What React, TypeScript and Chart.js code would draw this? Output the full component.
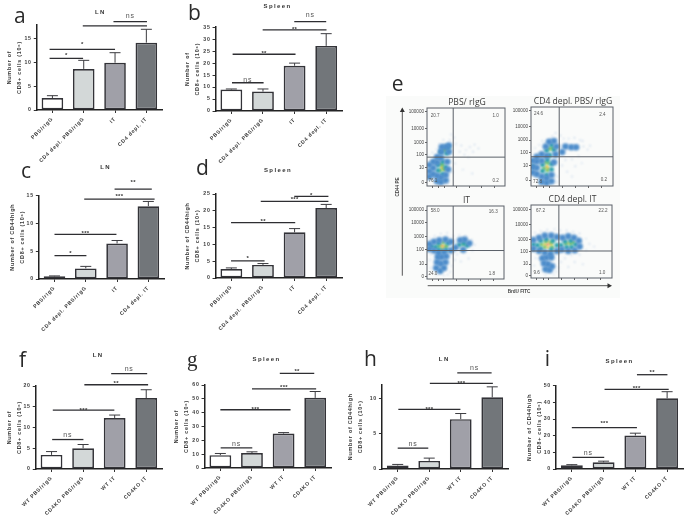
import React, { useEffect, useRef } from "react";
import { Chart, registerables } from "chart.js";
Chart.register(...registerables);

// ---------- data ----------
const catsDepl = ["PBS/rIgG", "CD4 depl. PBS/rIgG", "IT", "CD4 depl. IT"];
const catsKo = ["WT PBS/rIgG", "CD4KO PBS/rIgG", "WT IT", "CD4KO IT"];
const titleCd8 = ["Number of", "CD8+ cells (10⁶)"];
const titleHigh = ["Number of CD44high", "CD8+ cells (10⁶)"];

const aValues = [2.5, 8.6, 9.9, 14.1];
const aErrTops = [3.0, 10.4, 12.0, 16.9];
const aBrackets: [number, number, number, string][] = [[1.95, 3.02, 18.5, "ns"], [0.97, 3.02, 17.6, ""], [-0.09, 2, 12.7, "*"], [-0.09, 0.98, 10.8, "*"]];
const bValues = [8.95, 8.1, 18.9, 27.2];
const bErrTops = [9.2, 9.2, 20.0, 32.3];
const bBrackets: [number, number, number, string][] = [[1.99, 3.0, 37.3, "ns"], [0.99, 3.01, 33.9, "**"], [0.04, 2.03, 23.7, "**"], [0.02, 1.02, 11.8, "ns"]];
const cValues = [0.48, 1.9, 6.37, 13.05];
const cErrTops = [0.55, 2.26, 6.9, 13.9];
const cBrackets: [number, number, number, string][] = [[1.92, 3.11, 16.1, "**"], [0.95, 3.2, 14.3, "***"], [0, 1.98, 8.0, "***"], [0, 1.02, 4.2, "*"]];
const dValues = [2.7, 3.9, 13.6, 20.8];
const dErrTops = [3.0, 4.3, 14.7, 21.9];
const dBrackets: [number, number, number, string][] = [[1.99, 3.07, 24.3, "*"], [0.93, 3.07, 22.8, "***"], [-0.01, 2.02, 16.5, "**"], [-0.01, 1.05, 5.1, "*"]];
const fValues = [3.4, 5.0, 12.3, 17.1];
const fErrTops = [4.2, 5.9, 13.0, 19.1];
const fBrackets: [number, number, number, string][] = [[1.89, 3.03, 23.0, "ns"], [1.04, 3.06, 20.3, "**"], [0.04, 1.99, 14.2, "***"], [0.02, 1.01, 7.1, "ns"]];
const gValues = [9.3, 10.8, 24.9, 50.7];
const gErrTops = [10.5, 11.7, 25.6, 55.3];
const gBrackets: [number, number, number, string][] = [[1.88, 2.97, 68.4, "**"], [1.0, 3.03, 57.2, "***"], [0, 2.22, 42.1, "***"], [0.01, 1.01, 14.6, "ns"]];
const hValues = [0.5, 1.15, 7.1, 10.2];
const hErrTops = [0.65, 1.55, 7.9, 11.7];
const hBrackets: [number, number, number, string][] = [[1.89, 2.98, 13.7, "ns"], [1.02, 3.02, 12.2, "***"], [0.02, 1.99, 8.5, "***"], [0, 0.97, 2.97, "ns"]];
const iValues = [2.2, 4.0, 20.1, 42.4];
const iErrTops = [2.6, 4.7, 21.5, 46.4];
const iBrackets: [number, number, number, string][] = [[2.05, 3.01, 56.6, "**"], [1.03, 3.05, 47.8, "***"], [0, 2.05, 24.8, "***"], [0.02, 1.02, 7.0, "ns"]];

const flowLabels = ["0", "10", "100", "1000", "10000", "100000"];
type P = [number, number];

const s1: P[] = [[5, 4.6], [4.4, 5.2], [5.5, 5], [4.8, 4], [5.9, 4.4], [6.1, 5.3], [4.2, 4.4], [5.3, 3.7], [3.5, 6.2], [3.7, 5.4], [3.1, 6.6], [2.9, 5.9], [6.6, 4.8], [4.6, 2.1], [5.8, 1.6], [0.3, 3.9], [0.7, 4.3], [1.2, 4.7], [1.6, 5.4], [2.1, 5.9], [3.3, 1.8], [3.6, 2.9], [2.6, 0.4]];
const b1: P[] = [[0.3, 1.2], [0.3, 1.9], [0.3, 2.7], [0.8, 1.5], [0.8, 2.3], [0.8, 3.1], [1.3, 0.6], [1.3, 1.3], [1.3, 3], [1.3, 3.7], [1.8, 0.5], [1.8, 1.1], [1.8, 3.6], [1.8, 4.4], [2.4, 0.7], [2.4, 1.4], [2.6, 3.1], [2.4, 5], [2.8, 4.4], [2.8, 5.2], [2.7, 2.1], [1.9, 5]];
const t1: P[] = [[1.4, 2], [1.4, 2.7], [2, 1.5], [2, 3.1], [2.4, 2.4], [1.8, 4.4], [2.5, 4.2], [2.7, 4.9]];
const g1: P[] = [[1.7, 2], [2, 2.7], [2.2, 2.1], [2.2, 4.6], [2.4, 4.8], [1.8, 2.8]];
const y1: P[] = [[1.9, 2.4], [2.1, 2.2], [2.3, 4.65]];
const r1: P[] = [[1.95, 2.3]];

const s2: P[] = [[3.6, 6.4], [4, 6], [4.6, 6], [5.3, 6.1], [6, 5.8], [6.4, 5], [5.8, 3.8], [5, 3.4], [4.2, 3.3], [3.8, 2.6], [5.4, 2.5], [4.4, 1.8], [6.2, 2.9], [3.2, 1.2], [3, 6.7], [2.6, 6.3], [0.5, 4.8], [1, 5.2], [1.4, 5.7], [6.9, 4.6], [7.2, 5.1], [5, 1.2], [3.2, 0.5], [6.3, 5.7]];
const b2: P[] = [[0.2, 1.7], [0.2, 2.4], [0.2, 3.2], [0.7, 1.5], [0.7, 2.3], [0.7, 3.1], [0.7, 3.7], [1.3, 0.5], [1.3, 1.2], [1.3, 3.2], [1.3, 4], [1.9, 0.4], [1.9, 1], [1.9, 3.8], [2.5, 0.6], [2.5, 1.4], [2.8, 3], [3, 4], [3.1, 5], [2.2, 5.6], [2.8, 5.7], [1.8, 5], [4.2, 5], [4.9, 4.9], [5.5, 4.9], [3.8, 4.3]];
const t2: P[] = [[1.4, 1.9], [1.4, 2.7], [1.9, 1.4], [2, 3.3], [2.5, 2.1], [2.5, 2.8], [2.3, 3.9], [1.9, 4.5], [2.8, 4.6], [2.5, 5.2], [0.2, 2.5]];
const g2: P[] = [[1.6, 2.2], [2, 2], [2.1, 2.9], [1.8, 3], [2.2, 4.7], [2.6, 4.8]];
const y2: P[] = [[1.9, 2.5], [2.1, 2.2], [2.4, 4.75]];
const r2: P[] = [[1.95, 2.35]];

const s3: P[] = [[0.3, 5.6], [1, 5.9], [1.8, 6.2], [2.6, 6.3], [3.4, 5.9], [4.2, 6], [5, 5.9], [5.8, 5.4], [6.2, 4.7], [5.9, 3.9], [4.8, 3.6], [3.9, 3.4], [3.6, 2.6], [3.2, 1.8], [3, 1], [2.7, 0.6], [1.2, 0.5], [0.5, 1.5], [0.4, 2.6], [0.5, 3.4], [4.4, 2.4], [5.4, 2.8], [1.4, 0.9], [2.2, 0.5]];
const b3: P[] = [[1.2, 1.5], [1.7, 1.1], [2.2, 1.5], [1.3, 2.3], [1.8, 2.1], [2.4, 2.3], [1.4, 3], [1.9, 3], [2.5, 3.1], [1.5, 3.6], [2.2, 3.7], [0.3, 4.1], [0.3, 4.8], [0.9, 3.9], [0.9, 5.1], [1.6, 5.3], [2.4, 5.4], [3.1, 5.1], [3.1, 3.9], [3.7, 4.3], [4.3, 5.3], [4.9, 5.4], [5.5, 4.9], [4.7, 4]];
const t3: P[] = [[0.6, 4.5], [1.1, 4.4], [1.5, 4], [1.5, 4.9], [2.5, 4], [2.7, 4.9], [4.2, 4.7], [4.8, 4.9], [5.2, 4.6]];
const g3: P[] = [[1.5, 4.5], [1.9, 4], [2.5, 4.5], [2.1, 5], [4.7, 4.8]];
const y3: P[] = [[1.8, 4.6], [2.4, 4.5], [2.1, 4.2]];
const r3: P[] = [[2.1, 4.5], [1.9, 4.55]];

const s4: P[] = [[0.5, 6.2], [1.2, 6.4], [2, 6.6], [2.9, 6.7], [3.6, 6.5], [4.4, 6.5], [5.2, 6.3], [6, 6.1], [6.8, 5.4], [7.2, 4.7], [6.8, 3.8], [6, 3.2], [5, 3.1], [4.2, 2.7], [3.7, 2.2], [3.4, 1.4], [3.1, 0.9], [2.8, 0.5], [1, 0.9], [0.4, 1.7], [0.6, 2.7], [5.4, 2.2], [6.4, 1.9], [7.8, 4.3], [4.6, 1.5], [1.8, 0.4]];
const b4: P[] = [[0.3, 4], [0.3, 5.2], [1, 3.7], [1, 5.5], [1.7, 3.5], [1.7, 5.8], [2.5, 5.8], [3.2, 5.6], [3.2, 3.7], [3.8, 3.9], [3.9, 5.5], [4.6, 5.7], [5.3, 5.5], [5.9, 5.1], [6, 4.3], [5.4, 3.8], [4.6, 3.7], [1.4, 2.7], [1.9, 2.8], [2.5, 2.8], [1.6, 2], [2.1, 1.9], [2.6, 1.6], [1.8, 1.2], [2.4, 3.3], [2.3, 1.1]];
const t4: P[] = [[0.3, 4.6], [0.8, 4.5], [1.2, 4], [1.2, 5.1], [1.9, 5.3], [2.7, 5.1], [3.2, 4.5], [2.5, 3.9], [3.7, 4.5], [4.2, 5], [4.9, 5.1], [5.5, 4.6], [4.4, 4.2], [5, 4.2]];
const g4: P[] = [[1.3, 4.6], [1.7, 4.2], [2.6, 4.2], [1.8, 5], [2.5, 4.9], [4.3, 4.7], [4.9, 4.7], [5.2, 4.9]];
const y4: P[] = [[1.7, 4.6], [2.5, 4.6], [2.1, 4.2], [2.1, 5], [4.6, 4.8]];
const r4: P[] = [[2.1, 4.6], [2.3, 4.7], [1.9, 4.55]];

const q1Values: [string, number, number][] = [["20.7", 1.05, 9.06], ["1.0", 8.8, 9.06], ["76.1", 0.75, 0.73], ["0.2", 8.8, 0.73]];
const q2Values: [string, number, number][] = [["24.6", 0.92, 9.15], ["2.4", 8.7, 9.07], ["72.8", 0.8, 0.55], ["0.2", 8.9, 0.75]];
const q3Values: [string, number, number][] = [["58.0", 1.06, 9.36], ["16.3", 8.6, 9.27], ["24.0", 0.77, 0.73], ["1.8", 8.43, 0.73]];
const q4Values: [string, number, number][] = [["67.2", 1.17, 9.27], ["22.2", 8.9, 9.27], ["9.6", 0.69, 0.73], ["1.0", 8.79, 0.73]];

const yPos1 = [0.4, 2.4, 4.0, 5.6, 7.4, 9.5];
const yPos2 = [0.75, 2.6, 4.2, 5.8, 7.5, 9.5];
const yPos3 = [0.35, 2.05, 4.0, 5.85, 7.7, 9.45];
const yPos4 = [0.3, 1.9, 3.6, 5.3, 7.3, 9.4];
const xTickPos = [0.7, 1.5, 2.2, 3.8, 5.4, 7, 8.6];

// ---------- style / layout ----------
const barFills = ["#ffffff", "#d3d8d8", "#a0a0a8", "#72767a"];
const INK = "#333338";
const sansBold = (size: number) => ({ family: "'Liberation Sans', Arial, sans-serif", size, weight: "bold" as const });

type BarPanel = {
  cats: string[]; values: number[]; errTops: number[]; brackets: [number, number, number, string][]; gaps: number[];
  yTitle: string[]; yTitleX: number; title: string; titleX: number; titleY: number;
  x0: number; top: number; y0: number; w: number; max: number; step: number;
};

const barPanels: BarPanel[] = [
  { cats: catsDepl, values: aValues, errTops: aErrTops, brackets: aBrackets, gaps: [6, 0, 7, 5], yTitle: titleCd8, yTitleX: 9.5, title: "LN", titleX: 100.7, titleY: 12, x0: 37, top: 25, y0: 109.5, w: 125.6, max: 17.8, step: 5 },
  { cats: catsDepl, values: bValues, errTops: bErrTops, brackets: bBrackets, gaps: [6.5, 2, 2, 2.7], yTitle: titleCd8, yTitleX: 187, title: "Spleen", titleX: 277.3, titleY: 5.5, x0: 215.3, top: 26.7, y0: 110, w: 126, max: 35, step: 5 },
  { cats: catsDepl, values: cValues, errTops: cErrTops, brackets: cBrackets, gaps: [8, 4, 3, 4], yTitle: titleHigh, yTitleX: 12.7, title: "LN", titleX: 106, titleY: 166.7, x0: 39.3, top: 195, y0: 279, w: 125.6, max: 15, step: 5 },
  { cats: catsDepl, values: dValues, errTops: dErrTops, brackets: dBrackets, gaps: [3, 3.5, 2.7, 4.5], yTitle: titleHigh, yTitleX: 187, title: "Spleen", titleX: 277.7, titleY: 170, x0: 215.3, top: 194, y0: 277.7, w: 126, max: 25, step: 5 },
  { cats: catsKo, values: fValues, errTops: fErrTops, brackets: fBrackets, gaps: [4, 2.5, 1.7, 4.5], yTitle: titleCd8, yTitleX: 9.5, title: "LN", titleX: 98.3, titleY: 354.7, x0: 36, top: 385.7, y0: 469, w: 126.5, max: 20, step: 5 },
  { cats: catsKo, values: gValues, errTops: gErrTops, brackets: gBrackets, gaps: [3.2, 3.2, 1.7, 3.7], yTitle: titleCd8, yTitleX: 176, title: "Spleen", titleX: 266.3, titleY: 358.7, x0: 204.3, top: 384.7, y0: 468, w: 126, max: 60, step: 10 },
  { cats: catsKo, values: hValues, errTops: hErrTops, brackets: hBrackets, gaps: [4.5, 1.5, 1.5, 4], yTitle: titleHigh, yTitleX: 350, title: "LN", titleX: 444, titleY: 358.7, x0: 381.7, top: 384, y0: 468.3, w: 126, max: 12.06, step: 5 },
  { cats: catsKo, values: iValues, errTops: iErrTops, brackets: iBrackets, gaps: [4, 3, 6, 4], yTitle: titleHigh, yTitleX: 529, title: "Spleen", titleX: 619.3, titleY: 361, x0: 555.7, top: 385.7, y0: 469, w: 126.6, max: 50, step: 10 },
];

type FlowPanel = {
  title: string; left: number; top: number; w: number; h: number; gateX: number; gateY: number; yPos: number[]; quads: [string, number, number][];
  layers: P[][];
};
const flowPanels: FlowPanel[] = [
  { title: "PBS/ rIgG", left: 426.7, top: 107.7, w: 79.3, h: 78, gateX: 3.36, gateY: 3.7, yPos: yPos1, quads: q1Values, layers: [s1, b1, t1, g1, y1, r1] },
  { title: "CD4 depl. PBS/ rIgG", left: 530.7, top: 107.3, w: 83.3, h: 79.4, gateX: 3.44, gateY: 3.7, yPos: yPos2, quads: q2Values, layers: [s2, b2, t2, g2, y2, r2] },
  { title: "IT", left: 426.7, top: 205.7, w: 78.3, h: 73, gateX: 3.4, gateY: 3.9, yPos: yPos3, quads: q3Values, layers: [s3, b3, t3, g3, y3, r3] },
  { title: "CD4 depl. IT", left: 531, top: 205.3, w: 82.3, h: 73.4, gateX: 3.44, gateY: 3.7, yPos: yPos4, quads: q4Values, layers: [s4, b4, t4, g4, y4, r4] },
];
const layerColors = ["#a9c3e4", "#4f8ecb", "#2fa3ad", "#7fc65a", "#f1cb3c", "#e8532e"];
const layerRadii = [0.7, 3.3, 2.5, 2.0, 1.5, 1.0];

const panelLetters: [string, number, number, string][] = [
  ["a", 14, 24, "'Open Sans'"], ["b", 188, 21, "'Open Sans'"], ["c", 21, 179, "'Open Sans'"], ["d", 196, 175.7, "'Open Sans'"],
  ["e", 391.7, 92, "'Open Sans'"], ["f", 19, 368, "'Open Sans'"], ["g", 187, 368, "'Liberation Serif'"], ["h", 364, 367, "'Open Sans'"], ["i", 544.7, 366.7, "'Open Sans'"],
];

// ---------- charts ----------
const spacing = (px: string) => ({
  id: "spacing",
  beforeLayout(chart: any) { chart.ctx.letterSpacing = px; },
  beforeDraw(chart: any) { chart.ctx.letterSpacing = px; },
});

function makeBar(canvas: HTMLCanvasElement, p: BarPanel, leftW: number, topH: number, chartH: number, bottomH: number, rightW: number) {
  const marks = {
    id: "marks",
    afterDatasetsDraw(chart: any) {
      const { ctx } = chart; const x = chart.scales.x; const y = chart.scales.y;
      ctx.save();
      ctx.strokeStyle = "#3c3c40"; ctx.lineWidth = 1;
      p.errTops.forEach((top, i) => {
        const cx = x.getPixelForValue(i); const y1p = y.getPixelForValue(p.values[i]); const y2p = y.getPixelForValue(top);
        ctx.beginPath(); ctx.moveTo(cx, y1p); ctx.lineTo(cx, y2p); ctx.moveTo(cx - 5.5, y2p); ctx.lineTo(cx + 5.5, y2p); ctx.stroke();
      });
      p.brackets.forEach(([a, b, v, label], i) => {
        const py = y.getPixelForValue(v); const xa = x.getPixelForValue(a); const xb = x.getPixelForValue(b);
        ctx.strokeStyle = "#2e2e32"; ctx.lineWidth = 1.3;
        ctx.beginPath(); ctx.moveTo(xa, py); ctx.lineTo(xb, py); ctx.stroke();
        if (label) {
          const ns = label === "ns";
          ctx.fillStyle = ns ? "#555" : "#333";
          ctx.font = ns ? "7px 'Liberation Sans', Arial, sans-serif" : "bold 6px 'Liberation Sans', Arial, sans-serif";
          ctx.textAlign = "center"; ctx.textBaseline = "middle";
          ctx.letterSpacing = ns ? "0.8px" : "0.3px";
          ctx.fillText(label, (xa + xb) / 2, py - p.gaps[i] + (ns ? 0 : 1.5));
        }
      });
      ctx.fillStyle = "#333"; ctx.font = "bold 6px 'Liberation Sans', Arial, sans-serif"; ctx.letterSpacing = "1.4px";
      ctx.textAlign = "center"; ctx.textBaseline = "middle";
      ctx.fillText(p.title, p.titleX - (p.x0 - leftW), p.titleY - (p.top - topH));
      ctx.restore();
    },
  };
  return new Chart(canvas, {
    type: "bar",
    data: {
      labels: p.cats,
      datasets: [{ data: p.values, backgroundColor: barFills, borderColor: INK, borderWidth: 1.7, borderSkipped: false, categoryPercentage: 1, barPercentage: 0.69 }],
    },
    options: {
      responsive: false, animation: false,
      layout: { padding: { top: topH, right: rightW, left: 0, bottom: 0 } },
      plugins: { legend: { display: false }, tooltip: { enabled: false } },
      scales: {
        x: {
          type: "category", offset: true,
          afterFit: (s: any) => { s.height = bottomH; },
          border: { display: true, color: "#222", width: 1.5 },
          grid: { offset: false, drawOnChartArea: false, drawTicks: true, tickLength: 3, color: "#333" },
          ticks: { autoSkip: false, minRotation: 45, maxRotation: 45, padding: 3, color: "#3a3a3a", font: sansBold(5.2) },
        },
        y: {
          type: "linear", min: 0, max: p.max,
          afterFit: (s: any) => { s.width = leftW; },
          border: { display: true, color: "#222", width: 1.5 },
          grid: { drawOnChartArea: false, drawTicks: true, tickLength: 3, color: "#333" },
          ticks: { stepSize: p.step, includeBounds: false, padding: 2, color: "#3a3a3a", font: sansBold(5.2) },
          title: { display: true, text: p.yTitle, color: "#3a3a3a", padding: 0, font: { ...sansBold(5.4), lineHeight: "10.5px" } },
        },
      },
    } as any,
    plugins: [spacing("0.75px"), marks] as any,
  });
}

function makeFlow(canvas: HTMLCanvasElement, p: FlowPanel, leftW: number, topH: number, bottomH: number, rightW: number) {
  const frame = {
    id: "frame",
    beforeDatasetsDraw(chart: any) { chart.ctx.filter = "blur(1.3px)"; },
    afterDatasetsDraw(chart: any) { chart.ctx.filter = "none"; },
    afterDraw(chart: any) {
      const { ctx, chartArea: c } = chart; const x = chart.scales.x; const y = chart.scales.y;
      ctx.save();
      ctx.letterSpacing = "0px";
      ctx.strokeStyle = "#5a6068"; ctx.lineWidth = 1;
      ctx.strokeRect(c.left, c.top, c.right - c.left, c.bottom - c.top);
      const gx = x.getPixelForValue(p.gateX); const gy = y.getPixelForValue(p.gateY);
      ctx.beginPath(); ctx.moveTo(gx, c.top); ctx.lineTo(gx, c.bottom); ctx.moveTo(c.left, gy); ctx.lineTo(c.right, gy); ctx.stroke();
      ctx.fillStyle = "#555"; ctx.font = "4.6px 'Liberation Sans', Arial, sans-serif"; ctx.textAlign = "center"; ctx.textBaseline = "middle";
      p.quads.forEach(([t, qx, qy]) => ctx.fillText(t, x.getPixelForValue(qx), y.getPixelForValue(qy)));
      ctx.fillStyle = "#3a3a3a"; ctx.font = "8.6px 'Open Sans', sans-serif"; ctx.textBaseline = "bottom";
      ctx.fillText(p.title, (c.left + c.right) / 2 + 1, c.top - 1);
      ctx.restore();
    },
  };
  return new Chart(canvas, {
    type: "scatter",
    data: {
      datasets: p.layers.map((pts, i) => ({
        data: pts.map(([x, y]) => ({ x, y })),
        pointRadius: layerRadii[i], pointBackgroundColor: layerColors[i], pointBorderWidth: 0, showLine: false,
      })),
    },
    options: {
      responsive: false, animation: false,
      layout: { padding: { top: topH, right: rightW, left: 0, bottom: 0 } },
      plugins: { legend: { display: false }, tooltip: { enabled: false } },
      scales: {
        x: {
          type: "linear", min: 0, max: 10,
          afterFit: (s: any) => { s.height = bottomH; },
          afterBuildTicks: (s: any) => { s.ticks = xTickPos.map((value) => ({ value })); },
          border: { display: false },
          grid: { drawOnChartArea: false, drawTicks: true, tickLength: 2, color: "#666" },
          ticks: { display: true, autoSkip: false, callback: () => "", font: { size: 1 } },
        },
        y: {
          type: "linear", min: 0, max: 10,
          afterFit: (s: any) => { s.width = leftW; },
          afterBuildTicks: (s: any) => { s.ticks = p.yPos.map((value) => ({ value })); },
          border: { display: false },
          grid: { drawOnChartArea: false, drawTicks: true, tickLength: 2, color: "#666" },
          ticks: {
            autoSkip: false, padding: 1, color: "#444",
            font: { family: "'Liberation Sans', Arial, sans-serif", size: 4.6 },
            callback: (_v: any, i: number) => flowLabels[i],
          },
        },
      },
    } as any,
    plugins: [frame] as any,
  });
}

const absolute = (left: number, top: number): React.CSSProperties => ({ position: "absolute", left, top });

export default function App() {
  const barRefs = useRef<(HTMLCanvasElement | null)[]>([]);
  const flowRefs = useRef<(HTMLCanvasElement | null)[]>([]);
  const barBoxes = barPanels.map((p) => {
    const lineH = 10.5;
    const leftW = p.x0 - (p.yTitleX - lineH / 2);
    const topH = p.top - (p.titleY - 6);
    return { leftW, topH, chartH: p.y0 - p.top, bottomH: 58, rightW: 8 };
  });
  const flowBox = { leftW: 28, topH: 16, bottomH: 5, rightW: 3 };

  useEffect(() => {
    const charts: Chart[] = [];
    barPanels.forEach((p, i) => {
      const b = barBoxes[i];
      charts.push(makeBar(barRefs.current[i]!, p, b.leftW, b.topH, b.chartH, b.bottomH, b.rightW));
    });
    flowPanels.forEach((p, i) => {
      charts.push(makeFlow(flowRefs.current[i]!, p, flowBox.leftW, flowBox.topH, flowBox.bottomH, flowBox.rightW));
    });
    return () => charts.forEach((c) => c.destroy());
  }, []);

  return (
    <div style={{ position: "fixed", left: 0, top: 0, width: 689, height: 519, background: "#fff", overflow: "hidden" }}>
      <div style={{ ...absolute(386, 96), width: 234, height: 202, background: "#fafbfa" }} />
      {barPanels.map((p, i) => {
        const b = barBoxes[i];
        return (
          <canvas
            key={p.x0 + p.title}
            ref={(el) => { barRefs.current[i] = el; }}
            width={Math.round(b.leftW + p.w + b.rightW)}
            height={Math.round(b.topH + b.chartH + b.bottomH)}
            style={{ ...absolute(p.x0 - b.leftW, p.top - b.topH), display: "block", filter: "blur(0.3px)" }}
          />
        );
      })}
      {flowPanels.map((p, i) => (
        <canvas
          key={p.title}
          ref={(el) => { flowRefs.current[i] = el; }}
          width={Math.round(flowBox.leftW + p.w + flowBox.rightW)}
          height={Math.round(flowBox.topH + p.h + flowBox.bottomH)}
          style={{ ...absolute(p.left - flowBox.leftW, p.top - flowBox.topH), display: "block" }}
        />
      ))}
      <svg width={689} height={519} style={{ ...absolute(0, 0), pointerEvents: "none" }}>
        <line x1={402.3} y1={111} x2={402.3} y2={275.7} stroke="#555" strokeWidth={1} />
        <polygon points="402.3,107.5 399.8,112 404.8,112" fill="#333" />
        <line x1={427.7} y1={285.7} x2={608} y2={285.7} stroke="#555" strokeWidth={1} />
        <polygon points="612,285.7 607.5,283.2 607.5,288.2" fill="#333" />
      </svg>
      <div style={{ ...absolute(398 - 30, 186.7 - 4), width: 60, textAlign: "center", font: "bold 4.6px 'Liberation Sans', Arial, sans-serif", lineHeight: "8px", color: "#444", transform: "rotate(-90deg)" }}>CD44 PE</div>
      <div style={{ ...absolute(519 - 30, 291.7 - 4), width: 60, textAlign: "center", font: "bold 4.6px 'Liberation Sans', Arial, sans-serif", lineHeight: "8px", color: "#444" }}>BrdU FITC</div>
      {panelLetters.map(([t, x, base, family]) => (
        <div key={t} style={{ ...absolute(x, base - 18.6), fontFamily: family + ", sans-serif", fontSize: 21, lineHeight: "21px", color: "#2a2a2a" }}>{t}</div>
      ))}
    </div>
  );
}
